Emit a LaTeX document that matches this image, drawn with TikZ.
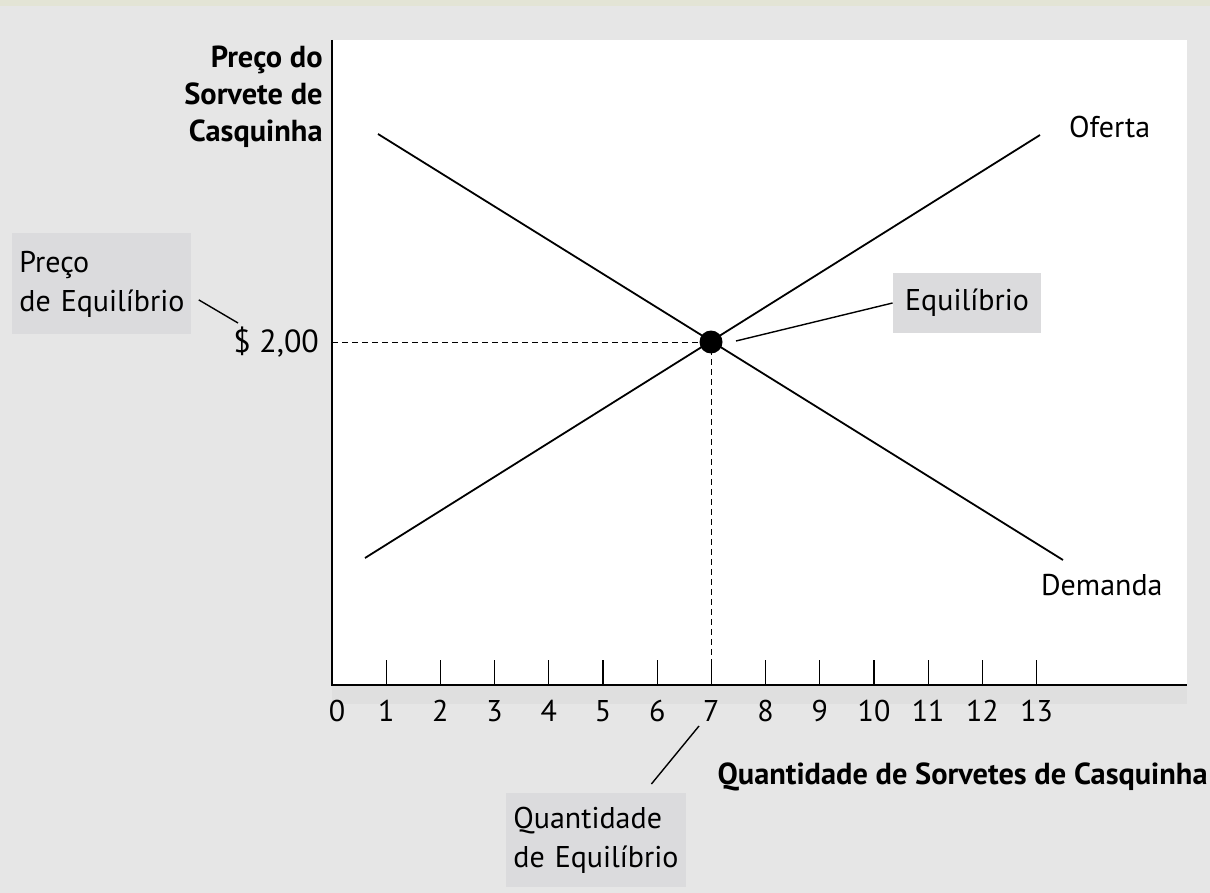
\documentclass[tikz,border=0pt]{standalone}
\usepackage{fontspec}
\setmainfont{PT Sans}
\usetikzlibrary{positioning}
\definecolor{bggray}{HTML}{E6E6E6}
\definecolor{boxgray}{HTML}{DBDBDD}
\definecolor{topstrip}{HTML}{E3E4D5}
\definecolor{bandgray}{HTML}{DFDFDF}
\hyphenpenalty=10000

\begin{document}
\begin{tikzpicture}[x=0.5pt, y=-0.5pt,
    every node/.style={font=\fontsize{15}{19.5}\selectfont},
    axislabel/.style={font=\fontsize{15.2}{18.5}\selectfont\bfseries, align=right, inner sep=0pt},
    callout/.style={fill=boxgray, align=left, inner xsep=3.5pt, inner ysep=0pt},
    curve/.style={line width=0.9pt},
    leader/.style={line width=0.7pt},
    guide/.style={line width=0.5pt, dash pattern=on 3pt off 2pt}]

    % Background, plot area and the band under the axis
    \fill[bggray] (0,0) rectangle (1210,893);
    \fill[topstrip] (0,0) rectangle (1210,6);
    \fill[white] (332,40) rectangle (1187,685);
    \fill[bandgray] (332,685) rectangle (1187,704);

    % Draw axes
    \coordinate (origin) at (332,685);
    \draw[line width=0.8pt] (332,40) -- (origin) -- (1187,685);

    % Draw ticks and their numbers
    \node (q0) at (337,711) {0};
    \foreach \q in {1,...,13} {
        \draw[line width=0.55pt] ({332+54.2*\q},660) -- ({332+54.2*\q},685);
        \node (q\q) at ({332+54.2*\q},711) {\q};
    }

    % Dashed guides to the equilibrium
    \coordinate (p2) at (332,342);
    \coordinate (q7axis) at (711,685);
    \coordinate (eqc) at (711,342);
    \draw[guide] (p2) -- (eqc);
    \draw[guide] (q7axis) -- (eqc);

    % Supply and demand
    \coordinate (s0) at (365,558);
    \coordinate (s1) at (1040,135);
    \coordinate (d0) at (378,134);
    \coordinate (d1) at (1063,560);
    \draw[curve] (s0) -- (s1);
    \draw[curve] (d0) -- (d1);
    \node[circle, fill=black, inner sep=0pt, minimum size=11.5pt] (eq) at (eqc) {};

    % Curve and axis labels
    \node[anchor=west] (oferta) at (1062,127) {Oferta};
    \node[anchor=west] (demanda) at (1034,585) {Demanda};
    \node[anchor=east, font=\fontsize{16}{19.5}\selectfont] (price) at (326,342) {\$ 2,00};
    \node[axislabel, anchor=north east] (ylabel) at (323,46) {Preço do\\Sorvete de\\Casquinha};
    \node[axislabel, anchor=east] (xlabel) at (1208,777) {Quantidade de Sorvetes de Casquinha};

    % Callout boxes with their leader lines
    \node[callout, minimum width=74pt, minimum height=30pt, align=center] (eqlabel) at (967,303) {Equilíbrio};
    \coordinate (eqtip) at (736,341);
    \draw[leader] (eqtip) -- (eqlabel.west);

    \node[callout, text width=82.5pt, minimum height=50.5pt, anchor=north west] (peqlabel) at (12,233) {Preço\\\mbox{de Equilíbrio}};
    \coordinate (ptip) at (238,323);
    \draw[leader] ([shift={(3.5pt,-8pt)}]peqlabel.east) -- (ptip);

    \node[callout, text width=83pt, minimum height=47pt, anchor=north west] (qeqlabel) at (506,793) {Quantidade\\\mbox{de Equilíbrio}};
    \coordinate (qtip) at (699,726);
    \draw[leader] ([shift={(27.5pt,4.5pt)}]qeqlabel.north) -- (qtip);
\end{tikzpicture}
\end{document}
